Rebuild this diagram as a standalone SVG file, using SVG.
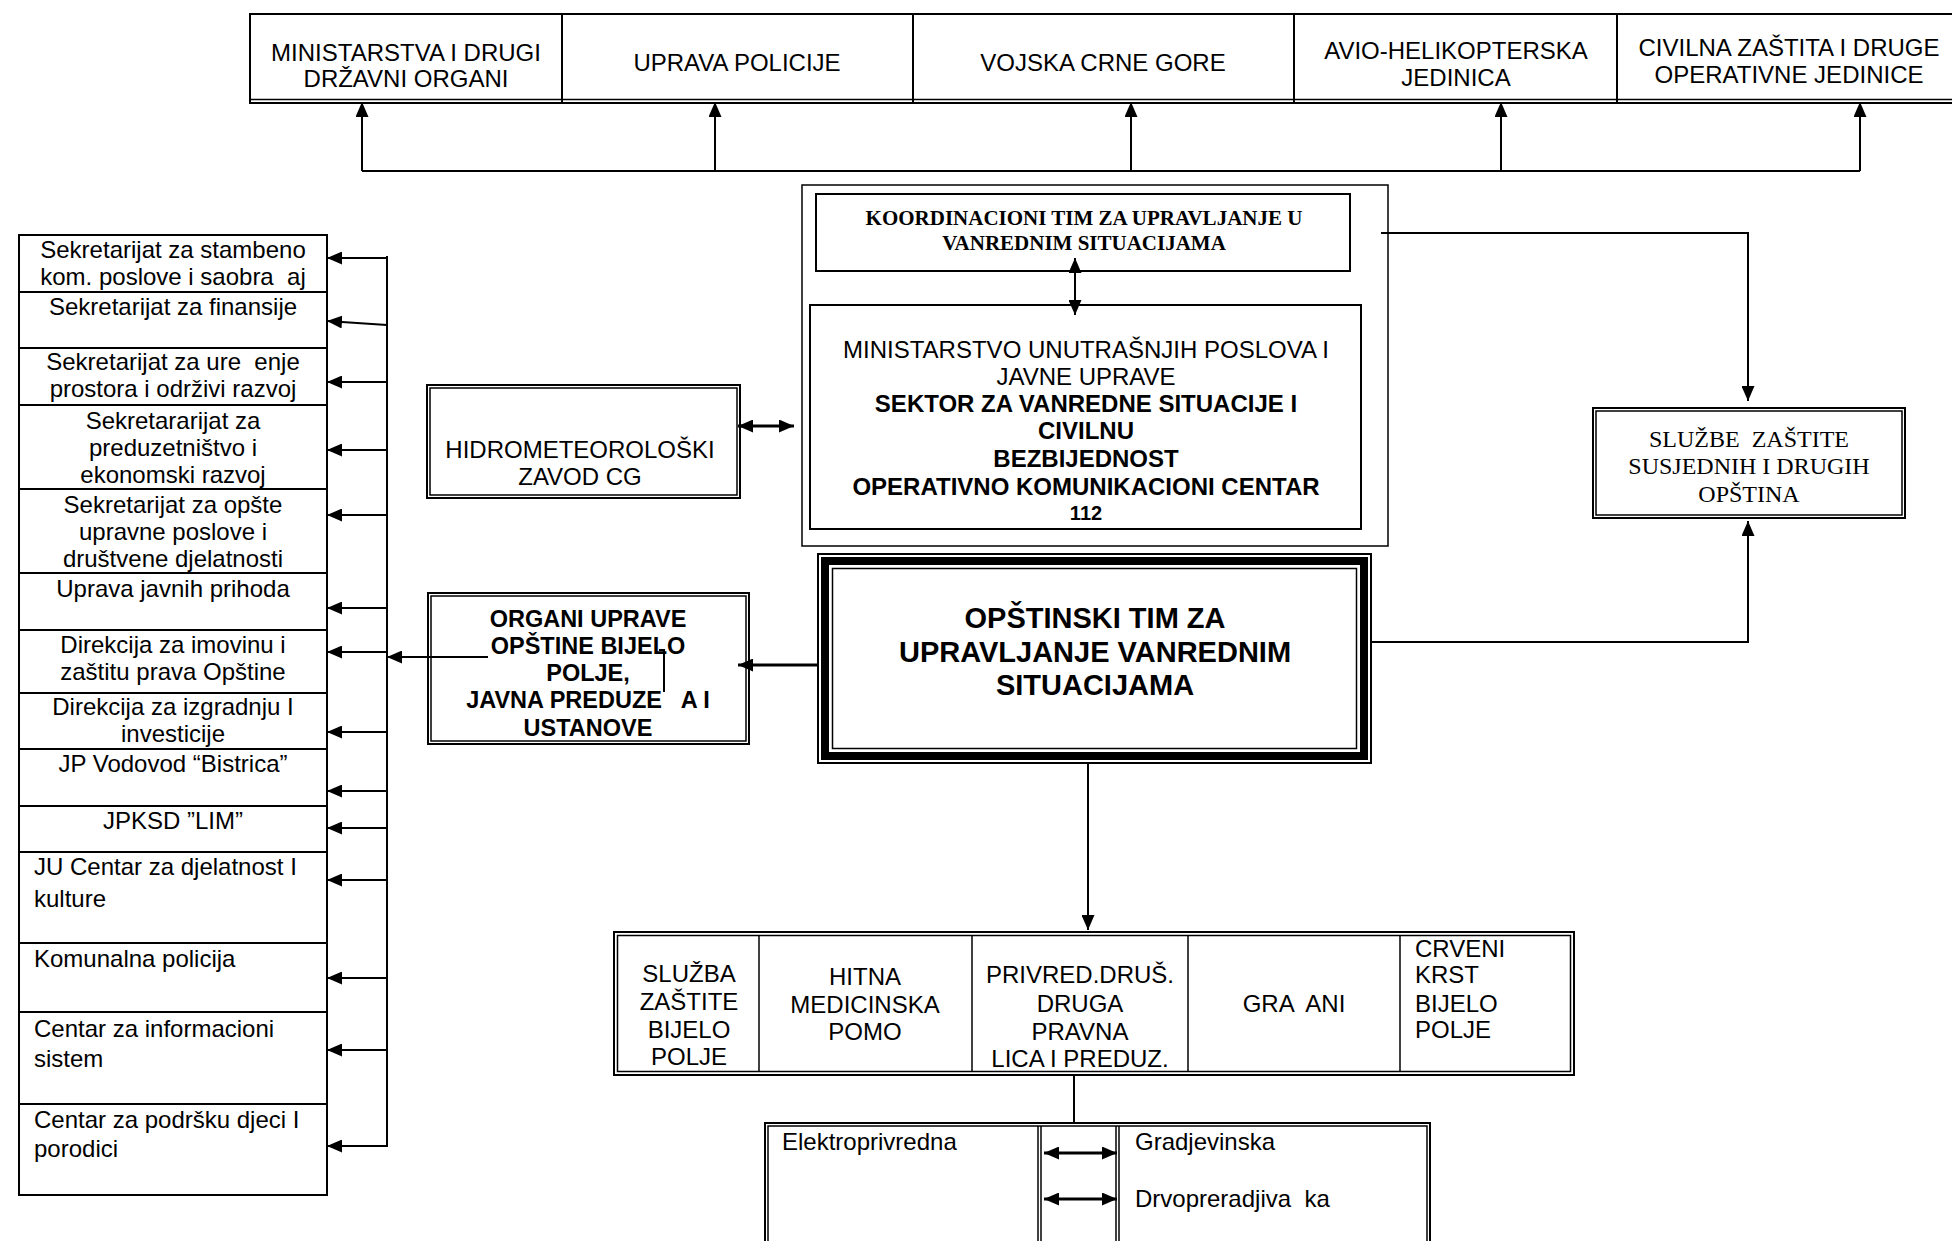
<svg xmlns="http://www.w3.org/2000/svg" width="1952" height="1241" viewBox="0 0 1952 1241">
<style>
.bx{fill:#fff;stroke:#000;stroke-width:2}
.ln{fill:none;stroke:#000;stroke-width:1.5}
.t{font-family:"Liberation Sans",Arial,sans-serif;font-size:24px;fill:#000}
.b{font-weight:bold}
.s{font-family:"Liberation Serif","Times New Roman",serif}
.c{text-anchor:middle}
.k{font-size:21px}
.o{font-size:29px}
.g{font-size:23.5px}
.n{font-size:20px}
.cn{fill:none;stroke:#000;stroke-width:2}
.cn3{fill:none;stroke:#000;stroke-width:3}
</style>
<defs>
<marker id="ah" viewBox="0 0 15 13" refX="15" refY="6.5" markerWidth="15" markerHeight="13" markerUnits="userSpaceOnUse" orient="auto-start-reverse">
<path d="M0,0 L15,6.5 L0,13 z" fill="#000"/>
</marker>
</defs>
<rect width="1952" height="1241" fill="#fff"/>

<!-- top row -->
<g id="top-ministarstva">
<rect class="bx" x="250" y="14" width="312" height="89"/>
<text class="t c" x="406" y="61">MINISTARSTVA I DRUGI</text>
<text class="t c" x="406" y="87">DRŽAVNI ORGANI</text>
</g>
<g id="top-uprava-policije">
<rect class="bx" x="562" y="14" width="351" height="89"/>
<text class="t c" x="737" y="71">UPRAVA POLICIJE</text>
</g>
<g id="top-vojska">
<rect class="bx" x="913" y="14" width="381" height="89"/>
<text class="t c" x="1103" y="71">VOJSKA CRNE GORE</text>
</g>
<g id="top-avio">
<rect class="bx" x="1294" y="14" width="323" height="89"/>
<text class="t c" x="1456" y="59">AVIO-HELIKOPTERSKA</text>
<text class="t c" x="1456" y="86">JEDINICA</text>
</g>
<g id="top-civilna">
<rect class="bx" x="1617" y="14" width="344" height="89"/>
<text class="t c" x="1789" y="56">CIVILNA ZAŠTITA I DRUGE</text>
<text class="t c" x="1789" y="83">OPERATIVNE JEDINICE</text>
</g>
<line class="ln" x1="250" y1="99.5" x2="1952" y2="99.5"/>

<!-- central container -->
<g id="container">
<rect class="ln" x="802" y="185" width="586" height="361" fill="#fff"/>
</g>
<g id="koordinacioni">
<rect class="bx" x="816" y="194" width="534" height="77"/>
<text class="t s b c k" x="1084" y="225">KOORDINACIONI TIM ZA UPRAVLJANJE U</text>
<text class="t s b c k" x="1084" y="250">VANREDNIM SITUACIJAMA</text>
</g>
<g id="mup">
<rect class="bx" x="810" y="305" width="551" height="224"/>
<text class="t c" x="1086" y="358">MINISTARSTVO UNUTRAŠNJIH POSLOVA I</text>
<text class="t c" x="1086" y="385">JAVNE UPRAVE</text>
<text class="t b c" x="1086" y="412">SEKTOR ZA VANREDNE SITUACIJE I</text>
<text class="t b c" x="1086" y="439">CIVILNU</text>
<text class="t b c" x="1086" y="467">BEZBIJEDNOST</text>
<text class="t b c" x="1086" y="495">OPERATIVNO KOMUNIKACIONI CENTAR</text>
<text class="t b c n" x="1086" y="520">112</text>
</g>

<g id="hidro">
<rect class="bx" x="427" y="385" width="313" height="113"/>
<rect class="ln" x="430" y="388" width="307" height="107"/>
<text class="t c" x="580" y="458">HIDROMETEOROLOŠKI</text>
<text class="t c" x="580" y="485">ZAVOD CG</text>
</g>

<g id="sluzbe-susjednih">
<rect class="bx" x="1593" y="408" width="312" height="110"/>
<rect class="ln" x="1596" y="411" width="306" height="104"/>
<text class="t s c" x="1749" y="447" xml:space="preserve">SLUŽBE  ZAŠTITE</text>
<text class="t s c" x="1749" y="474">SUSJEDNIH I DRUGIH</text>
<text class="t s c" x="1749" y="502">OPŠTINA</text>
</g>

<g id="opstinski-tim">
<rect class="bx" x="818" y="554" width="553" height="209"/>
<rect x="825" y="561" width="539" height="195" fill="none" stroke="#000" stroke-width="8"/>
<rect class="ln" x="832.5" y="568.5" width="524" height="180"/>
<text class="t b c o" x="1095" y="628">OPŠTINSKI TIM ZA</text>
<text class="t b c o" x="1095" y="662">UPRAVLJANJE VANREDNIM</text>
<text class="t b c o" x="1095" y="695">SITUACIJAMA</text>
</g>

<g id="organi-uprave">
<rect class="bx" x="428" y="593" width="321" height="151"/>
<rect class="ln" x="431" y="596" width="315" height="145"/>
<text class="t b c g" x="588" y="627">ORGANI UPRAVE</text>
<text class="t b c g" x="588" y="654">OPŠTINE BIJELO</text>
<text class="t b c g" x="588" y="681">POLJE,</text>
<text class="t b c g" x="588" y="708" xml:space="preserve">JAVNA PREDUZE   A I</text>
<text class="t b c g" x="588" y="736">USTANOVE</text>
</g>

<!-- left column -->
<g id="l01"><rect class="bx" x="19" y="235" width="308" height="57"/>
<text class="t c" x="173" y="258">Sekretarijat za stambeno</text>
<text class="t c" x="173" y="285" xml:space="preserve">kom. poslove i saobra  aj</text></g>
<g id="l02"><rect class="bx" x="19" y="292" width="308" height="56"/>
<text class="t c" x="173" y="315">Sekretarijat za finansije</text></g>
<g id="l03"><rect class="bx" x="19" y="348" width="308" height="57"/>
<text class="t c" x="173" y="370" xml:space="preserve">Sekretarijat za ure  enje</text>
<text class="t c" x="173" y="397">prostora i održivi razvoj</text></g>
<g id="l04"><rect class="bx" x="19" y="405" width="308" height="84"/>
<text class="t c" x="173" y="429">Sekretararijat za</text>
<text class="t c" x="173" y="456">preduzetništvo i</text>
<text class="t c" x="173" y="483">ekonomski razvoj</text></g>
<g id="l05"><rect class="bx" x="19" y="489" width="308" height="84"/>
<text class="t c" x="173" y="513">Sekretarijat za opšte</text>
<text class="t c" x="173" y="540">upravne poslove i</text>
<text class="t c" x="173" y="567">društvene djelatnosti</text></g>
<g id="l06"><rect class="bx" x="19" y="573" width="308" height="57"/>
<text class="t c" x="173" y="597">Uprava javnih prihoda</text></g>
<g id="l07"><rect class="bx" x="19" y="630" width="308" height="63"/>
<text class="t c" x="173" y="653">Direkcija za imovinu i</text>
<text class="t c" x="173" y="680">zaštitu prava Opštine</text></g>
<g id="l08"><rect class="bx" x="19" y="693" width="308" height="56"/>
<text class="t c" x="173" y="715">Direkcija za izgradnju I</text>
<text class="t c" x="173" y="742">investicije</text></g>
<g id="l09"><rect class="bx" x="19" y="749" width="308" height="57"/>
<text class="t c" x="173" y="772">JP Vodovod “Bistrica”</text></g>
<g id="l10"><rect class="bx" x="19" y="806" width="308" height="46"/>
<text class="t c" x="173" y="829">JPKSD ”LIM”</text></g>
<g id="l11"><rect class="bx" x="19" y="852" width="308" height="91"/>
<text class="t" x="34" y="875">JU Centar za djelatnost I</text>
<text class="t" x="34" y="907">kulture</text></g>
<g id="l12"><rect class="bx" x="19" y="943" width="308" height="69"/>
<text class="t" x="34" y="967">Komunalna policija</text></g>
<g id="l13"><rect class="bx" x="19" y="1012" width="308" height="92"/>
<text class="t" x="34" y="1037">Centar za informacioni</text>
<text class="t" x="34" y="1067">sistem</text></g>
<g id="l14"><rect class="bx" x="19" y="1104" width="308" height="91"/>
<text class="t" x="34" y="1128">Centar za podršku djeci I</text>
<text class="t" x="34" y="1157">porodici</text></g>

<!-- bottom row -->
<g id="bottom-row">
<rect class="bx" x="614" y="932" width="960" height="143"/>
<rect class="ln" x="617.5" y="935.5" width="953" height="136"/>
</g>
<g id="b-sluzba">
<line class="ln" x1="759" y1="935" x2="759" y2="1072"/>
<text class="t c" x="689" y="982">SLUŽBA</text>
<text class="t c" x="689" y="1010">ZAŠTITE</text>
<text class="t c" x="689" y="1038">BIJELO</text>
<text class="t c" x="689" y="1065">POLJE</text>
</g>
<g id="b-hitna">
<line class="ln" x1="972" y1="935" x2="972" y2="1072"/>
<text class="t c" x="865" y="985">HITNA</text>
<text class="t c" x="865" y="1013">MEDICINSKA</text>
<text class="t c" x="865" y="1040">POMO</text>
</g>
<g id="b-privred">
<line class="ln" x1="1188" y1="935" x2="1188" y2="1072"/>
<text class="t c" x="1080" y="983">PRIVRED.DRUŠ.</text>
<text class="t c" x="1080" y="1012">DRUGA</text>
<text class="t c" x="1080" y="1040">PRAVNA</text>
<text class="t c" x="1080" y="1067">LICA I PREDUZ.</text>
</g>
<g id="b-gradjani">
<line class="ln" x1="1400" y1="935" x2="1400" y2="1072"/>
<text class="t c" x="1294" y="1012" xml:space="preserve">GRA  ANI</text>
</g>
<g id="b-crveni">
<text class="t" x="1415" y="957">CRVENI</text>
<text class="t" x="1415" y="983">KRST</text>
<text class="t" x="1415" y="1012">BIJELO</text>
<text class="t" x="1415" y="1038">POLJE</text>
</g>

<!-- lower box -->
<g id="lower-box">
<rect class="bx" x="765" y="1123" width="665" height="140"/>
<rect class="ln" x="768" y="1126" width="659" height="140"/>
<line class="ln" x1="1038" y1="1126" x2="1038" y2="1245"/>
<line class="ln" x1="1041" y1="1126" x2="1041" y2="1245"/>
<line class="ln" x1="1116" y1="1126" x2="1116" y2="1245"/>
<line class="ln" x1="1119" y1="1126" x2="1119" y2="1245"/>
</g>
<g id="elektroprivredna"><text class="t" x="782" y="1150">Elektroprivredna</text></g>
<g id="gradjevinska"><text class="t" x="1135" y="1150">Gradjevinska</text></g>
<g id="drvopreradjivacka"><text class="t" x="1135" y="1207" xml:space="preserve">Drvopreradjiva  ka</text></g>

<!-- connectors -->
<g id="connectors">
<path class="cn" d="M362,171 H1860"/>
<path class="cn" d="M362,171 V102" marker-end="url(#ah)"/>
<path class="cn" d="M715,171 V102" marker-end="url(#ah)"/>
<path class="cn" d="M1131,171 V102" marker-end="url(#ah)"/>
<path class="cn" d="M1501,171 V102" marker-end="url(#ah)"/>
<path class="cn" d="M1860,171 V102" marker-end="url(#ah)"/>

<path class="cn" d="M1075,258 V315" marker-start="url(#ah)" marker-end="url(#ah)"/>
<path class="cn3" d="M738,426 H794" marker-start="url(#ah)" marker-end="url(#ah)"/>

<path class="cn" d="M1381,233 H1748 V401" marker-end="url(#ah)"/>
<path class="cn" d="M1371,642 H1748 V521" marker-end="url(#ah)"/>

<path class="cn3" d="M818,665 H738" marker-end="url(#ah)"/>
<path class="cn" d="M1088,763 V930" marker-end="url(#ah)"/>
<path class="cn" d="M1074,1075 V1123"/>

<path class="cn" d="M488,657 H387" marker-end="url(#ah)"/>
<path class="cn" d="M659,650 H664 V692"/>

<path class="cn" d="M387,256 V1147"/>
<path class="cn" d="M387,258 H327" marker-end="url(#ah)"/>
<path class="cn" d="M387,325 L327,321" marker-end="url(#ah)"/>
<path class="cn" d="M387,382 H327" marker-end="url(#ah)"/>
<path class="cn" d="M387,450 H327" marker-end="url(#ah)"/>
<path class="cn" d="M387,515 H327" marker-end="url(#ah)"/>
<path class="cn" d="M387,608 H327" marker-end="url(#ah)"/>
<path class="cn" d="M387,652 H327" marker-end="url(#ah)"/>
<path class="cn" d="M387,732 H327" marker-end="url(#ah)"/>
<path class="cn" d="M387,791 H327" marker-end="url(#ah)"/>
<path class="cn" d="M387,828 H327" marker-end="url(#ah)"/>
<path class="cn" d="M387,880 H327" marker-end="url(#ah)"/>
<path class="cn" d="M387,978 H327" marker-end="url(#ah)"/>
<path class="cn" d="M387,1050 H327" marker-end="url(#ah)"/>
<path class="cn" d="M387,1146 H327" marker-end="url(#ah)"/>

<path class="cn3" d="M1044,1153 H1117" marker-start="url(#ah)" marker-end="url(#ah)"/>
<path class="cn3" d="M1044,1199 H1117" marker-start="url(#ah)" marker-end="url(#ah)"/>
</g>
</svg>
